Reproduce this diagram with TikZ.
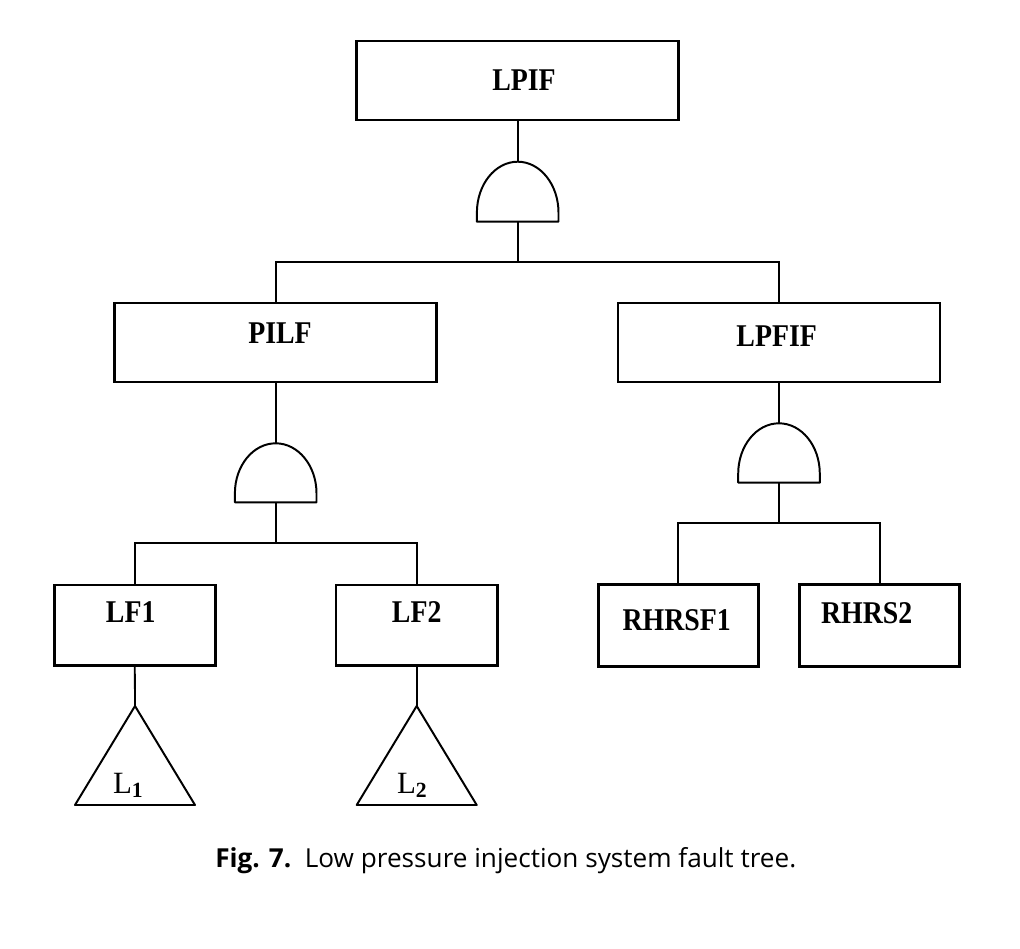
\documentclass[tikz,border=0pt]{standalone}
\usepackage{fontspec}
\setmainfont{Liberation Serif}
\newfontfamily\boxfont[FakeStretch=0.88]{Liberation Serif}
\newfontfamily\capfont{Open Sans}

\begin{document}
\begin{tikzpicture}[x=0.025cm, y=-0.025cm,
	evbox/.style={draw, line width=1.9pt, inner sep=0pt, minimum width=8.05cm, minimum height=1.975cm},
	smallbox/.style={evbox, minimum width=4.03cm, minimum height=2.02cm},
	wire/.style={line width=1.3pt},
	gateline/.style={line width=1.4pt, line join=round},
	lbl/.style={font=\boxfont\fontsize{22.5}{25}\selectfont\bfseries, anchor=base, inner sep=0pt},
	trtext/.style={font=\fontsize{22}{24}\selectfont, anchor=base, inner sep=0pt}]
					\useasboundingbox (0,0) rectangle (1020,948);

					\node[evbox] (lpif) at (517.7,80.5) {};
					\node[evbox] (pilf) at (275.7,342.5) {};
					\node[evbox] (lpfif) at (779,342.5) {};
					\node[smallbox] (lf1) at (134.8,625.3) {};
					\node[smallbox] (lf2) at (416.7,625.3) {};
					\node[smallbox, minimum width=4cm, minimum height=2.06cm] (rhrsf1) at (678.3,625.5) {};
					\node[smallbox, minimum width=4cm, minimum height=2.06cm] (rhrs2) at (879.7,625.5) {};

					\node[lbl] (lpiftxt) at (524,90) {LPIF};
					\node[lbl] (pilftxt) at (280,343) {PILF};
					\node[lbl] (lpfiftxt) at (776.7,346.7) {LPFIF};
					\node[lbl] (lf1txt) at (130.7,622) {LF1};
					\node[lbl] (lf2txt) at (416.7,622) {LF2};
					\node[lbl] (rhrsf1txt) at (676.7,630) {RHRSF1};
					\node[lbl] (rhrs2txt) at (866.7,623.3) {RHRS2};

					\draw[gateline] (476.9,221.7) -- (476.9,212.7) arc[start angle=180, end angle=360, x radius=40.8, y radius=51] -- (558.5,221.7) -- cycle;
					\coordinate (g1top) at (517.7,161.7);
					\coordinate (g1bot) at (517.7,221.7);

					\draw[gateline] (234.9,502.3) -- (234.9,493.3) arc[start angle=180, end angle=360, x radius=40.8, y radius=50] -- (316.5,502.3) -- cycle;
					\coordinate (g2top) at (275.7,443.3);
					\coordinate (g2bot) at (275.7,502.3);

					\draw[gateline] (738.2,482.7) -- (738.2,473.7) arc[start angle=180, end angle=360, x radius=40.8, y radius=50.4] -- (819.8,482.7) -- cycle;
					\coordinate (g3top) at (779,423.3);
					\coordinate (g3bot) at (779,482.7);

					\coordinate (j1) at (517.7,261.7);
					\coordinate (j2) at (275.7,543.3);
					\coordinate (j3) at (779,523.3);

					\draw[wire] (lpif.south) -- (g1top);
					\draw[wire] (g1bot) -- (j1);
					\draw[wire] (pilf.north) |- (j1) -| (lpfif.north);

					\draw[wire] (pilf.south) -- (g2top);
					\draw[wire] (g2bot) -- (j2);
					\draw[wire] (lf1.north) |- (j2) -| (lf2.north);

					\draw[wire] (lpfif.south) -- (g3top);
					\draw[wire] (g3bot) -- (j3);
					\draw[wire] (rhrsf1.north) |- (j3) -| (rhrs2.north);

					\coordinate (t1top) at (135,706);
					\coordinate (t2top) at (416.7,706);
					\draw[gateline] (t1top) -- (195,805) -- (75,805) -- cycle;
					\draw[gateline] (t2top) -- (476.7,805) -- (356.7,805) -- cycle;
					\draw[wire] (lf1.south) -- (t1top);
					\draw[wire] (lf2.south) -- (t2top);
					\node[trtext] (l1txt) at (128.3,793) {L\textsubscript{\bfseries 1}};
					\node[trtext] (l2txt) at (412.3,793) {L\textsubscript{\bfseries 2}};

					\node[font=\capfont\fontsize{18.6}{21}\selectfont, anchor=base west, inner sep=0pt] (caption) at (215,867) {\textbf{Fig. 7.}\ \ Low pressure injection system fault tree.};
				\end{tikzpicture}
\end{document}
